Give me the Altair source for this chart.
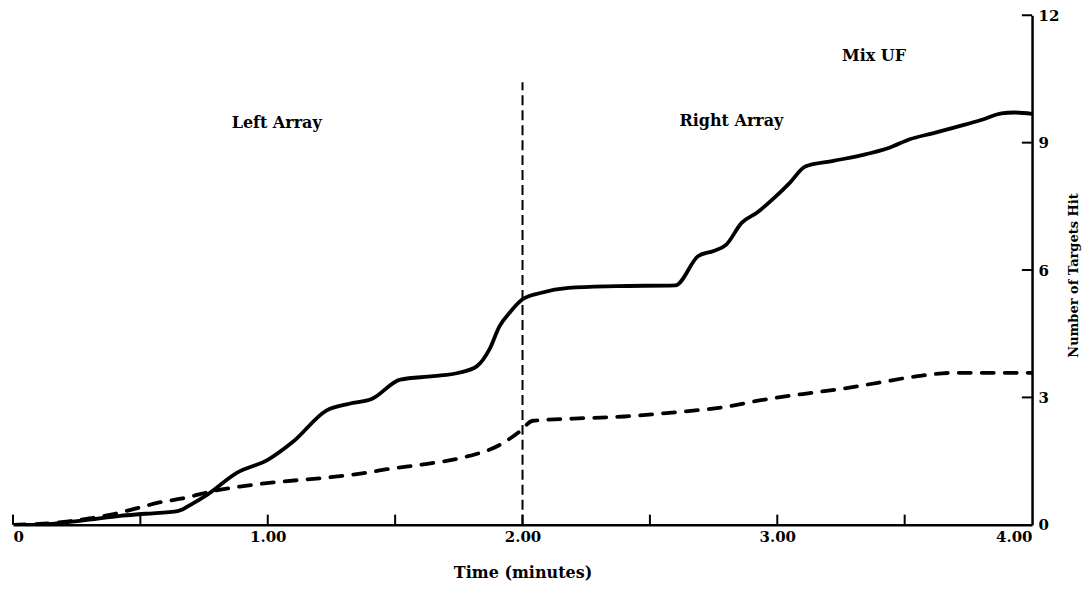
import altair as alt
import pandas as pd

# --- data ---
solid_t = [0, 0.1, 0.2, 0.3, 0.42, 0.52, 0.65, 0.705, 0.76, 0.88, 1.0, 1.1, 1.23, 1.32, 1.41,
           1.52, 1.65, 1.75, 1.82, 1.87, 1.91, 1.95, 2.0, 2.07, 2.18, 2.37, 2.6, 2.69, 2.75,
           2.8, 2.86, 2.92, 2.99, 3.05, 3.11, 3.22, 3.35, 3.44, 3.52, 3.61, 3.74, 3.81, 3.88,
           3.93, 4.0]
solid_v = [0, 0, 0.05, 0.12, 0.21, 0.26, 0.33, 0.5, 0.7, 1.23, 1.53, 1.96, 2.69, 2.85, 2.97,
           3.42, 3.5, 3.58, 3.73, 4.13, 4.68, 5.0, 5.31, 5.46, 5.58, 5.62, 5.64, 6.33, 6.45,
           6.6, 7.11, 7.35, 7.71, 8.06, 8.44, 8.57, 8.73, 8.88, 9.08, 9.22, 9.43, 9.55, 9.69,
           9.71, 9.68]

dash_t = [0, 0.1, 0.2, 0.3, 0.4, 0.48, 0.57, 0.665, 0.79, 0.89, 1.06, 1.23, 1.37, 1.47, 1.62,
          1.77, 1.91, 1.99, 2.04, 2.2, 2.4, 2.6, 2.8, 2.95, 3.1, 3.25, 3.4, 3.55, 3.7, 3.85, 4.0]
dash_v = [0, 0.02, 0.07, 0.15, 0.26, 0.38, 0.52, 0.62, 0.8, 0.9, 1.02, 1.11, 1.21, 1.31, 1.43,
          1.59, 1.88, 2.2, 2.45, 2.5, 2.55, 2.65, 2.78, 2.95, 3.08, 3.2, 3.35, 3.5, 3.58, 3.58, 3.58]

divider_t = [2.0]
divider_top = [10.42]

x_tick_values = [0, 0.5, 1.0, 1.5, 2.0, 2.5, 3.0, 3.5]
x_label_values = [0, 1, 2, 3, 4]
y_tick_values = [3, 6, 9, 12]
y_label_values = [0, 3, 6, 9, 12]

label_text = ["Left Array", "Right Array", "Mix UF"]
label_t = [1.035, 2.82, 3.38]
label_v = [9.46, 9.5, 11.04]

FONT = "DejaVu Serif"

solid_df = pd.DataFrame({"t": solid_t, "v": solid_v})
dash_df = pd.DataFrame({"t": dash_t, "v": dash_v})
div_df = pd.DataFrame({"t": divider_t, "top": divider_top, "bottom": [0] * len(divider_t)})
xt_df = pd.DataFrame({"t": x_tick_values, "v0": [0] * len(x_tick_values),
                      "v1": [0.24] * len(x_tick_values)})
yt_df = pd.DataFrame({"v": y_tick_values, "t0": [3.96] * len(y_tick_values),
                      "t1": [4.0] * len(y_tick_values)})
lab_df = pd.DataFrame({"text": label_text, "t": label_t, "v": label_v})

xscale = alt.Scale(domain=[0, 4], nice=False, zero=False)
yscale = alt.Scale(domain=[0, 12], nice=False)

x_axis = alt.Axis(
    values=x_label_values, orient="bottom", ticks=False, grid=False,
    labelExpr="datum.value == 0 ? '0' : format(datum.value, '.2f')",
    labelFont=FONT, labelFontSize=15, labelFontWeight="bold", labelColor="black",
    labelPadding=5, domainColor="black", domainWidth=2.5,
    title="Time (minutes)", titleFont=FONT, titleFontSize=16, titleFontWeight="bold",
    titleColor="black", titleY=48, titleBaseline="middle",
)
y_axis = alt.Axis(
    values=y_label_values, orient="right", ticks=False, grid=False,
    labelFont=FONT, labelFontSize=15, labelFontWeight="bold", labelColor="black",
    labelPadding=6, labelAlign="left", domainColor="black", domainWidth=2.5,
    title="Number of Targets Hit", titleFont=FONT, titleFontSize=13, titleFontWeight="bold",
    titleColor="black", titleAngle=270, titleX=41, titleY=260, titleAlign="center",
    titleBaseline="middle",
)

solid = alt.Chart(solid_df).mark_line(
    color="black", strokeWidth=3.8, interpolate="monotone", clip=True
).encode(
    x=alt.X("t:Q", scale=xscale, axis=x_axis),
    y=alt.Y("v:Q", scale=yscale, axis=y_axis),
)

dashed = alt.Chart(dash_df).mark_line(
    color="black", strokeWidth=3.8, strokeDash=[12, 11], strokeCap="round",
    interpolate="monotone", clip=True
).encode(
    x=alt.X("t:Q", scale=xscale),
    y=alt.Y("v:Q", scale=yscale),
)

divider = alt.Chart(div_df).mark_rule(color="black", strokeWidth=2, strokeDash=[10, 5]).encode(
    x=alt.X("t:Q", scale=xscale),
    y=alt.Y("bottom:Q", scale=yscale),
    y2="top:Q",
)

xticks = alt.Chart(xt_df).mark_rule(color="black", strokeWidth=2).encode(
    x=alt.X("t:Q", scale=xscale),
    y=alt.Y("v0:Q", scale=yscale),
    y2="v1:Q",
)

yticks = alt.Chart(yt_df).mark_rule(color="black", strokeWidth=2).encode(
    x=alt.X("t0:Q", scale=xscale),
    x2="t1:Q",
    y=alt.Y("v:Q", scale=yscale),
)

labels = alt.Chart(lab_df).mark_text(
    font=FONT, fontSize=16, fontWeight="bold", color="black", align="center", baseline="middle"
).encode(
    x=alt.X("t:Q", scale=xscale),
    y=alt.Y("v:Q", scale=yscale),
    text="text:N",
)

chart = alt.layer(solid, dashed, divider, xticks, yticks, labels).properties(
    width=1020, height=510,
    autosize=alt.AutoSizeParams(type="none"),
    padding={"left": 5, "top": 7, "right": 50, "bottom": 62},
    view=alt.ViewBackground(strokeOpacity=0, strokeWidth=0),
).configure_view(strokeOpacity=0, strokeWidth=0).configure(background="white")

chart.save("out.html", embed_options={"renderer": "svg", "actions": False})
